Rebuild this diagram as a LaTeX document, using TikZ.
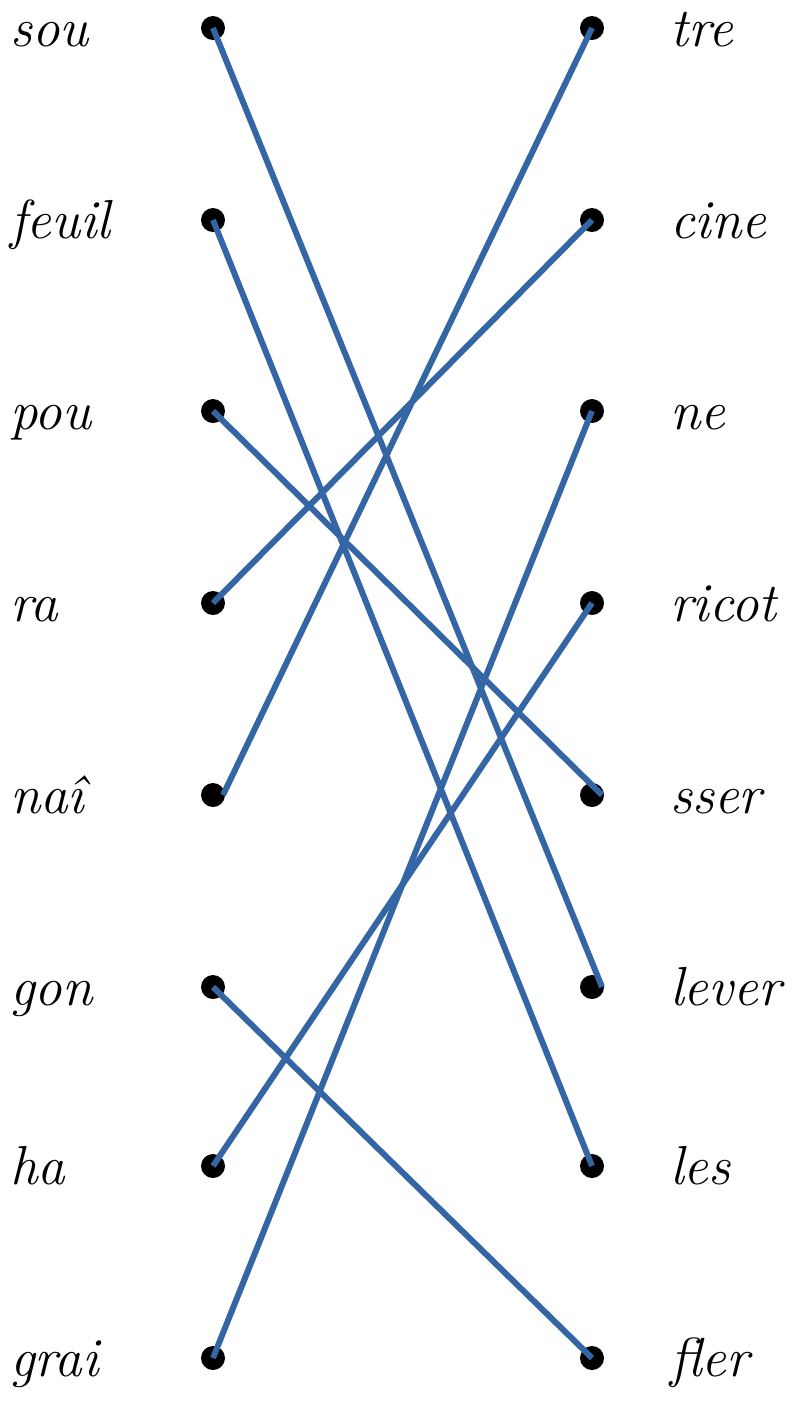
\documentclass[tikz,border=0pt]{standalone}
\usepackage{xcolor}
\usepackage{tikz}
\usetikzlibrary{calc}
\definecolor{lineblue}{HTML}{3465A4}

\tikzset{
  dot/.style={circle, fill=black, inner sep=0pt, minimum size=24pt},
  word/.style={inner sep=0pt, font=\fontsize{55}{66}\selectfont\itshape},
  link/.style={lineblue, line width=6pt}
}

\begin{document}
\begin{tikzpicture}[x=1pt, y=-1pt]
    \useasboundingbox (0,0) rectangle (798,1409);
    % left column
    \foreach \name/\txt/\y in {l0/sou/28, l1/feuil/220, l2/pou/411, l3/ra/603,
                               l4/na\^{\i}/795, l5/gon/987, l6/ha/1166, l7/grai/1358} {
        \node[dot] (\name) at (213,\y) {};
        \node[word, anchor=base west] (\name w) at (10,\y+18) {\txt};
    }
    % right column
    \foreach \name/\txt/\y in {r0/tre/28, r1/cine/220, r2/ne/411, r3/ricot/603,
                               r4/sser/795, r5/lever/987, r6/les/1166, r7/f{}ler/1358} {
        \node[dot] (\name) at (592,\y) {};
        \node[word, anchor=base west] (\name w) at (670,\y+18) {\txt};
    }
    % links
    \draw[link] (l0.center) -- ([xshift=10pt]r5.center);
    \draw[link] (l1.center) -- (r6.center);
    \draw[link] (l2.center) -- ([xshift=10pt]r4.center);
    \draw[link] (l3.center) -- (r1.center);
    \draw[link] ([xshift=10pt]l4.center) -- (r0.center);
    \draw[link] (l5.center) -- (r7.center);
    \draw[link] (l6.center) -- (r3.center);
    \draw[link] (l7.center) -- (r2.center);
\end{tikzpicture}
\end{document}
